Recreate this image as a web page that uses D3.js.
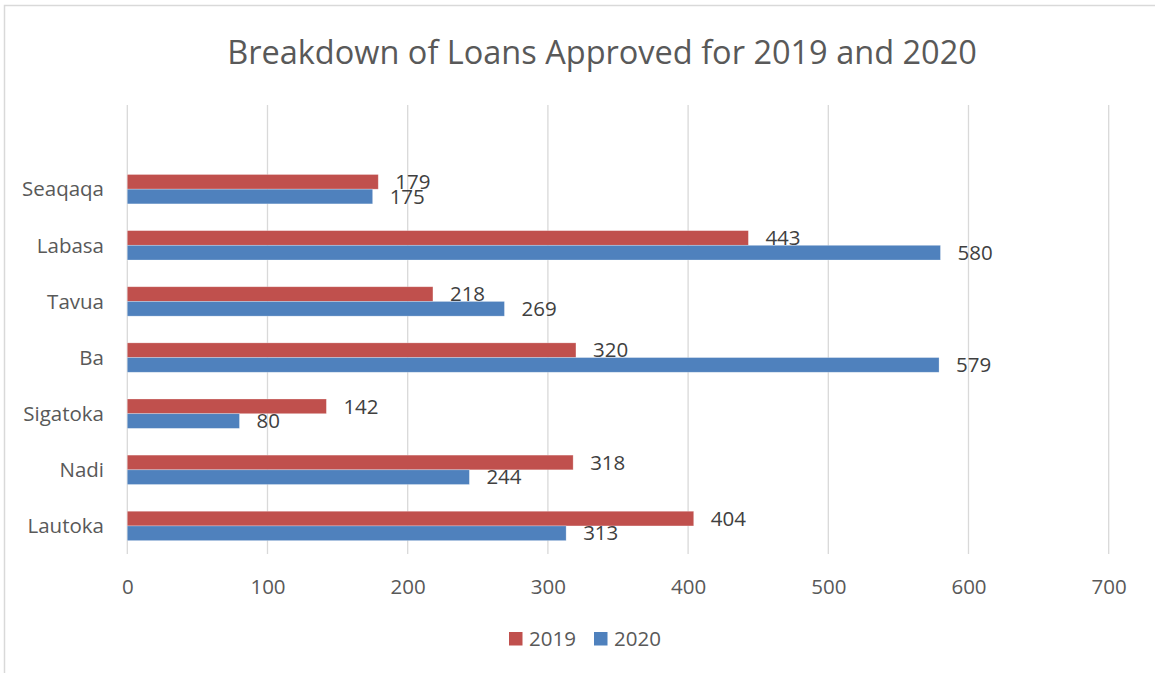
<!DOCTYPE html>
<html>
<head>
<meta charset="utf-8">
<script src="https://cdn.jsdelivr.net/npm/d3@7"></script>
<style>
  html, body { margin: 0; padding: 0; background: #fff; }
  svg { display: block; }
</style>
</head>
<body>
<svg id="chart" width="1155" height="673"></svg>
<script>
// ---- data ----
const categories = ["Seaqaqa", "Labasa", "Tavua", "Ba", "Sigatoka", "Nadi", "Lautoka"];
const seriesNames = ["2019", "2020"];
const values2019 = [179, 443, 218, 320, 142, 318, 404];
const values2020 = [175, 580, 269, 579, 80, 244, 313];
const xTicks = [0, 100, 200, 300, 400, 500, 600, 700];
const titleText = "Breakdown of Loans Approved for 2019 and 2020";

const colors = { "2019": "#C0504D", "2020": "#4F81BD" };
const font = "'Open Sans', 'Liberation Sans', sans-serif";

const svg = d3.select("#chart");
const W = 1155, H = 673;

// chart border
svg.append("rect")
  .attr("x", 4.5).attr("y", 5.5)
  .attr("width", W + 20).attr("height", H + 20)
  .attr("fill", "#fff").attr("stroke", "#D9D9D9").attr("stroke-width", 1.5);

// plot area
const plot = { left: 127.3, right: 1108.7, top: 105, bottom: 554 };
const x = d3.scaleLinear().domain([0, 700]).range([plot.left, plot.right]);
const slot = (plot.bottom - plot.top) / 8;
const y = d3.scaleBand().domain(categories).range([plot.top + slot, plot.bottom]).padding(0);
const ySub = d3.scaleBand().domain(seriesNames).range([0, y.bandwidth()]).paddingInner(0).paddingOuter(0.91);

// title
svg.append("text")
  .attr("x", 602).attr("y", 64)
  .attr("text-anchor", "middle")
  .attr("font-family", font).attr("font-size", 32.5)
  .attr("fill", "#595959")
  .text(titleText);

// gridlines
svg.append("g").selectAll("line").data(xTicks).join("line")
  .attr("x1", d => x(d)).attr("x2", d => x(d))
  .attr("y1", plot.top).attr("y2", plot.bottom)
  .attr("stroke", "#D9D9D9").attr("stroke-width", 1.3);

// x axis labels
const xAxis = d3.axisBottom(x).tickValues(xTicks).tickSize(0).tickPadding(0).tickFormat(d3.format("d"));
const gx = svg.append("g").attr("transform", `translate(0,${plot.bottom})`).call(xAxis);
gx.select(".domain").remove();
gx.selectAll("text")
  .attr("font-family", font).attr("font-size", 20.5).attr("fill", "#595959")
  .attr("dy", null).attr("y", 40);

// y axis labels
const yAxis = d3.axisLeft(y).tickSize(0).tickPadding(0);
const gy = svg.append("g").attr("transform", `translate(104,0)`).call(yAxis);
gy.select(".domain").remove();
gy.selectAll("text")
  .attr("font-family", font).attr("font-size", 20.5).attr("fill", "#595959")
  .attr("x", 0).attr("dy", "0.35em");

// bars
const rows = categories.map((c, i) => ({ cat: c, vals: { "2019": values2019[i], "2020": values2020[i] } }));
const flat = [];
rows.forEach(r => seriesNames.forEach(s => flat.push({ cat: r.cat, s, v: r.vals[s] })));

svg.append("g").selectAll("rect").data(flat).join("rect")
  .attr("x", x(0))
  .attr("y", d => y(d.cat) + ySub(d.s))
  .attr("width", d => x(d.v) - x(0))
  .attr("height", ySub.bandwidth())
  .attr("fill", d => colors[d.s])
  .attr("stroke", "#ffffff").attr("stroke-opacity", 0.35).attr("stroke-width", 0.75);

// value labels
svg.append("g").selectAll("text").data(flat).join("text")
  .attr("x", d => x(d.v) + 17)
  .attr("y", d => y(d.cat) + ySub(d.s) + ySub.bandwidth() / 2)
  .attr("dy", "0.35em")
  .attr("font-family", font).attr("font-size", 20.5).attr("fill", "#404040")
  .text(d => d.v);

// legend
const legendItems = [{ s: "2019", x: 509 }, { s: "2020", x: 594 }];
const lg = svg.append("g");
legendItems.forEach(it => {
  lg.append("rect").attr("x", it.x).attr("y", 632).attr("width", 13.5).attr("height", 13.5).attr("fill", colors[it.s]);
  lg.append("text").attr("x", it.x + 20).attr("y", 645.5)
    .attr("font-family", font).attr("font-size", 20.5).attr("fill", "#595959")
    .text(it.s);
});
</script>
</body>
</html>
